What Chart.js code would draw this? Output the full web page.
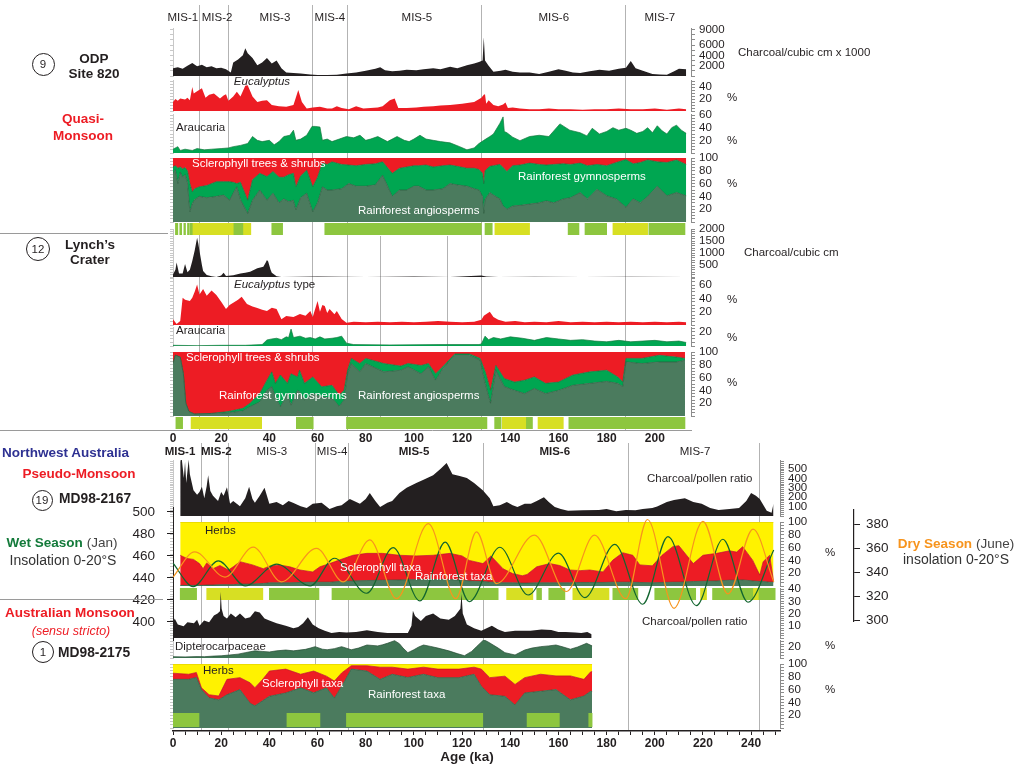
<!DOCTYPE html>
<html>
<head>
<meta charset="utf-8">
<script src="https://cdn.jsdelivr.net/npm/chart.js@4.4.1/dist/chart.umd.min.js"></script>
<style>
  body { margin:0; width:1015px; height:770px; position:relative; overflow:hidden; background:#fff;
         font-family:"Liberation Sans", Arial, Helvetica, sans-serif; color:#231f20; }
  canvas { position:absolute; }
  .t { position:absolute; white-space:nowrap; line-height:1; transform:translate(-50%,-50%); font-size:11.5px; }
  .l { transform:translate(0,-50%); }
  .w { color:#fff; }
  .b { font-weight:bold; }
  .h { font-weight:bold; font-size:13.5px; }
  .red { color:#ed1c24; }
  .circ { position:absolute; border:1px solid #231f20; border-radius:50%; text-align:center; font-size:11.5px; box-sizing:border-box; }
  .hr { position:absolute; height:0; border-top:1px solid #9a9a9a; }
</style>
</head>
<body>
<script>
// ---------- data (age in ka) ----------
const topBounds = [11.2, 23.2, 57.7, 72.6, 128.2, 188];
const lynchBounds = [86, 114];
const botBounds = [12, 23.2, 59, 73, 129, 189.2, 243.6];
const misNames = ["MIS-1", "MIS-2", "MIS-3", "MIS-4", "MIS-5", "MIS-6", "MIS-7"];
const misTopAt = [4.1, 18.3, 42.3, 65.1, 101.2, 158, 202];
const misBotAt = [2.9, 18, 41, 66, 100, 158.4, 216.6];
const misBotBold = [true, true, false, false, true, true, false];
const topAgeLabels = [0, 20, 40, 60, 80, 100, 120, 140, 160, 180, 200];
const botAgeLabels = [0, 20, 40, 60, 80, 100, 120, 140, 160, 180, 200, 220, 240];

// ODP Site 820
const odpCharcoal = [[0,1500],[2,1700],[4,1400],[6,2000],[8,2500],[10,1900],[12,2200],[14,1700],[16,1900],[18,1500],[20,1600],[22,1300],[24,700],[25,2600],[27,3200],[29,4000],[30,5400],[31,4400],[33,3500],[35,2100],[37,2600],[39,3500],[41,2400],[43,3000],[45,1500],[47,700],[50,600],[53,500],[57,300],[60,200],[64,200],[68,250],[72,500],[76,700],[80,1000],[84,1400],[86,1700],[88,1100],[91,900],[94,1000],[97,1200],[101,1100],[104,1300],[108,1500],[111,1300],[115,1800],[118,1500],[122,2100],[125,2400],[127,2700],[128.5,3000],[129,7500],[129.5,3000],[131,2000],[133,800],[136,1000],[138,1200],[141,800],[144,700],[148,700],[152,400],[156,800],[160,1300],[163,1000],[166,700],[169,600],[173,900],[177,1200],[181,1000],[185,1400],[188,1600],[190,2900],[192,1500],[195,1000],[199,400],[202,300],[205,250],[208,900],[210,1400],[213,1300]];
const odpEucalyptus = [[0,15],[1,20],[2,17],[3,21],[5,19],[6,22],[7,18],[8,40],[8.6,29],[10,33],[12,38],[13.5,22],[15,27],[17,29],[19.5,21],[21,26],[22,28],[23,17],[25,24],[26.5,32],[28,24],[30,42],[31,43],[33,24],[35,15],[37,17],[39,18],[41,10],[44,8],[47,7],[50,10],[52,35],[53.5,15],[55.5,4],[58,6],[61,7],[64,4],[66,4],[68,8],[70,5],[73,3],[76,8],[79,4],[82,5],[85,6],[87,8],[90,18],[92,21],[93.5,5],[97,5],[101,6],[104,7],[108,8],[111,9],[115,10],[120,12],[125,15],[128,22],[129,27],[129.5,28],[130,12],[131,18],[133,10],[135,8],[137,11],[138,14],[139,5],[141,6],[144,4],[148,3],[152,3],[156,4],[160,3],[165,3],[170,2],[175,3],[180,3],[185,4],[190,3],[195,3],[200,4],[205,2],[210,4],[213,3]];
const odpAraucaria = [[0,6],[2,10],[3,4],[5,6],[8,4],[10,7],[13,5],[16,6],[20,7],[23,8],[25,10],[28,12],[31,15],[33,26],[35,20],[37,18],[40,20],[42,13],[44,18],[46,26],[48.5,28],[50,36],[51,20],[53,22],[55.5,28],[57.7,42],[59,42],[61,41],[62,20],[64,22],[66,18],[69,22],[72,26],[75,24],[77.6,28],[80,20],[82,22],[85,26],[87,22],[89,18],[91,22],[93,26],[96,20],[98,18],[100,22],[102.5,28],[105,22],[108,20],[111,18],[115,16],[119,10],[122,5],[125,8],[127,15],[129,20],[131.5,26],[133,30],[135.7,47],[137,57],[137.5,34],[138.6,32],[141,25],[144,19.5],[148,26],[152,28],[156,26],[160.6,46],[164.7,36],[169,32],[171.8,27],[174,39],[177,30],[180,34],[182.6,40],[185,36],[188,39],[190,36],[192.5,31],[195,34],[197,40],[199,32],[201,43],[203,35],[205,30],[207,40],[209,44],[211,36],[213,31]];
const odpPollenAge = [0,1,2,3,4,5,6,7,8,9,11,14,18,21,23.5,25,26.5,28,31,33,36,39,41.5,44,46,48,50,51,53,55.5,58,60,62,64,66,70,73,76,80,84,87,91,94,97,100,102,105,108,112,115,118,122,125,127,128.5,129,129.5,131.5,133,135.7,137,138.6,141,144,148,152,155,158,162,165,169,172,176,180,184,188,191,194,197,201,205,209,213];
const odpAngiosperms = [76,82,60,78,70,74,62,16,29,35,40,38,40,42,34,45,55,35,13.5,34,50,34,45,30,36,32,34,19,38,45,16,30,55,50,50,52,60,56,56,58,73,40,50,50,56,56,50,50,52,60,58,56,52,50,40,13.5,35,46,42,36,25,20,25,26,28,30,33,30,36,38,46,36,51,41,36,23,36,30,40,56,41,46,41];
const odpPlusGymnosperms = [86,88,84,86,83,85,80,60,47,52,55,57,63,63,63,62,60,62,34,66,76,71,79,70,70,74,76,55,72,81,55,70,92,90,94,90,89,88,90,91,94,76,84,86,88,88,89,86,88,89,87,84,84,82,76,60,80,87,88,90,85,79,88,89,92,90,89,90,91,90,92,88,90,88,93,97.5,91,93,97,94,93,97,90];
const odpBars = [[1,2,"g"],[2.8,3.6,"g"],[4.5,5.2,"g"],[6,6.8,"g"],[7.2,8,"g"],[8,25,"y"],[25,29,"g"],[29,32.3,"y"],[41,45.5,"g"],[63,128,"g"],[129.5,132.5,"g"],[133.6,148,"y"],[164,168.5,"g"],[171,180,"g"],[182.6,197,"y"],[197.5,212.5,"g"]];

// Lynch's Crater
const lynchCharcoal = [[0,100],[1,300],[1.5,600],[2.5,150],[4,150],[5,540],[6,200],[7,300],[8,670],[9,1100],[10,1640],[10.5,1400],[11,1080],[12,500],[12.5,250],[14,80],[16,30],[18,0],[20,60],[21,180],[22,40],[25,70],[28,150],[30,180],[32,220],[35,360],[37.5,430],[38.5,600],[39,710],[39.5,650],[40.5,300],[41,180],[43,30],[45,0],[60,20],[80,0],[100,20],[115,0],[128,60],[130,20],[135,0],[150,10],[170,0],[190,10],[213,0]];
const lynchEucalyptus = [[0,8.5],[1.5,1.5],[3,6],[4,41],[5,38],[7,36],[8,41],[9,50],[10,61],[11,46],[12.5,54],[14,44],[16,52],[18,45],[20,35],[22,24],[23.5,30],[25,33.5],[27,38],[28.5,42.6],[30.7,31.5],[33,28],[35,25.5],[37,23],[39,21],[41,26],[43,24],[45,8.5],[47,13.5],[50,12],[52.7,16.5],[55,14],[57,21],[58,12],[59,24],[60,36],[61,20],[62,30],[63,28.5],[64,18],[65,24],[67,16],[68,21],[70,9],[72,3.5],[75,5],[80,4],[85,5],[90,4],[95,5],[100,4],[105,5],[110,6],[115,5],[120,4],[125,5],[128,8],[129,14],[131.5,20],[133,12],[135,8],[138,5],[142,6],[146,4],[150,5],[155,4],[160,6],[165,4],[170,5],[175,4],[180,5],[185,4],[190,5],[195,4],[200,5],[205,4],[210,5],[213,4]];
const lynchAraucaria = [[0,1],[10,0.5],[20,1],[30,1],[37,2],[39,8.6],[41,10],[43,11],[45,9],[47,13],[48,12],[49,24],[50,12],[52.7,14],[55,11],[57,12],[59,10],[61,13],[63,10],[66,11],[68,12],[70,14],[72,4],[75,2],[90,1.5],[110,2],[127,2],[128,3],[129.5,14],[131,9],[133,12],[136,10],[140,13],[145,11],[150,8],[155,12],[160,10],[165,8],[170,9],[175,7],[180,6],[185,8],[190,6],[195,7],[200,8],[205,6],[210,7],[213,5]];
const lynchPollenAge = [0,1,3,4.3,5.3,6.6,8.9,16,23,29,32,36,39,41,42.5,44.6,47.5,49,51.7,52.5,54.6,58,61.7,66,69,71,72.5,74,77.5,80,87.5,94.6,97.5,103,106,109,112,117,123,127.5,129.6,131.8,134,137.5,141.8,146,150,154.6,160,166,173,180,184.6,186.7,188,194.6,201.8,209,212.5];
const lynchAngiosperms = [82,95,92,66,20,7,3,4,5,8,14.5,22,40,46,30,14.5,35,17,40,38,25,35,30,28,15,25,66,82,69,82,69,71.5,77,66,77,56,74,95,95,87,51,20,71.5,46,40,35,43,35,40,48,51,54,51,46,84.5,82,84.5,84.5,87];
const lynchPlusGymnosperms = [82,95,92,66,20,7,3,4,7,12,20,35,56,69,51,64,51,66,61,71.5,51,61,45.6,48,32.6,40,72,90,82,90,82,78,82,79,82,66,77,97,97,90,69,40,79,58.5,53,56,61,51,53,64,69,71.5,61,53,90,90,95,92,90];
const lynchBars = [[1.2,4,"g"],[7.5,36.8,"y"],[51.2,58.2,"g"],[72,130.3,"g"],[133.5,136.2,"g"],[136.7,146.4,"y"],[146.6,149.2,"g"],[151.5,162,"y"],[164.3,212.5,"g"]];

// MD98-2167
const md67Charcoal = [[3,575],[3.5,640],[4.5,405],[5,575],[5.5,350],[6.5,600],[7,445],[8.5,275],[10,225],[11,255],[12,310],[13,190],[14,320],[14.6,435],[15.5,265],[16.6,215],[18.7,160],[20,255],[21,215],[22.4,305],[23.7,130],[25,160],[27.8,105],[30,190],[31.6,310],[33,180],[34,140],[36,215],[38,300],[40,130],[43,150],[45.6,115],[48,160],[49.8,140],[53,105],[55.5,85],[58,130],[61.7,140],[65,75],[68,105],[70,115],[73.4,180],[77.6,130],[80,180],[81.7,245],[84,160],[86,95],[89,140],[91,160],[94,245],[97,300],[101,350],[104,385],[108,435],[111,500],[113.6,565],[116,445],[119,425],[122,405],[125,350],[128.6,275],[131.5,190],[133,105],[135.7,115],[138.6,150],[141,115],[143,95],[146,130],[148.6,130],[151,160],[154,200],[156,150],[158.5,95],[161,75],[164,55],[170,60],[176.8,65],[180,75],[184,50],[188,65],[192,60],[195,75],[199,85],[201,100],[205,150],[208,170],[212.5,190],[216,150],[219.5,130],[223,85],[226.5,65],[231,75],[235,85],[238,160],[240,245],[242,215],[243.6,180],[246.5,55],[248.5,35],[249.3,130]];
const md67PollenAge = [3,5.8,8.5,11,12.5,14,16.6,19.5,23,25,27.8,33,37.5,40,44,48.5,52.7,58,61,65,69,74.7,80.5,87,94,101,108,115,120,123,128.7,132,137,141,145,147,151,156.4,160.6,164.7,169,173,178.5,182.6,186.7,190.9,193.8,199,203,207.5,210,216,220,225.7,231,234,236.5,240.7,243.6,245,247.7,249.3];
const md67Rainforest = [1,1,1,1,1,1.5,1.5,2,2,2,3,3,4,5,5,5,5.5,6,6,6,7,8,8.5,9,9.5,10,10,10,9,8,7,6,5,5,4.5,4.5,5,5,5,5,5.5,5.5,5.5,6,6,6,5.5,5,5.5,6,6,7,7.5,8,9,9,9.5,8,7,7,6,6];
const md67PlusSclerophyll = [48,43,41.6,35,27,36,27,32,25,30,38,33,27,31,33,30,25,22,30,35,40.5,48,51,51,48,47,48,51,47,40,35,47,27,19.5,16,18,30,35,32,25,24,25,22,40.5,52,48,33,31.5,48,61.5,63,35,48,51,55,53,61.5,40,17,38,48,8];
const md67Bars = [[3,9.8,"g"],[14,37.3,"y"],[40,60.6,"g"],[66,135,"g"],[138.5,149.4,"y"],[151,153,"g"],[156,162.7,"g"],[166,181,"y"],[182.6,193,"g"],[200,217,"g"],[219,221.5,"y"],[224,240.7,"g"],[240.7,243,"y"],[243,250,"g"]];

// insolation 0-20S (turning points)
const wetJan = [[0,453.4],[8.4,432.1],[18.8,455.5],[30,432.7],[43,452.5],[57,432.7],[67,457.9],[80.4,426.1],[91.4,467.5],[102.5,419.1],[113,472.5],[123,418.5],[135.7,467.9],[147.4,424.5],[160,462.5],[171,422.1],[183.4,470.6],[195,416.1],[205.5,477.5],[217.3,414.8],[228.3,475.2],[238.7,417.9],[249.4,465.5]];
const dryJune = [[0,336],[9,357],[21.6,336],[33.3,361],[45,332],[59.6,360],[70.7,332],[81.7,367],[92.8,318],[106,380.5],[117.4,318],[126,373.6],[134.3,330.6],[150,371],[163.3,324],[175,371],[188,318],[197,384],[208,310],[220,382.5],[230.4,322],[240.8,376],[249.4,332]];

// MD98-2175
const md75Charcoal = [[0,12],[0.7,16],[2,11],[4.4,9.6],[6,13],[8.7,12],[10,15],[11,10],[12.9,14.4],[15,13],[17,18.4],[18.5,20],[19.5,22],[19.8,38],[20.2,24],[21,18],[22.4,16],[24,20],[26,17],[27.8,20],[30,16],[32,17],[34,22],[36,21],[38,16],[40,14.4],[43,12],[46.8,10],[50,8],[52,9],[54,12],[56,17],[58,11],[60.5,8],[63,6],[65.8,4],[69,5],[72,4.5],[76,5],[80.5,6.4],[85,5],[89,4],[93,4],[97.5,4],[99,10],[99.6,22.4],[100.5,18],[102.9,14],[105,18],[108,20],[111,16],[114.5,15],[117,18],[119.3,24],[119.8,36],[120.3,20],[122,11],[125,8],[128,6],[132.4,10],[135,7],[137.8,5],[142,6],[148.4,6],[153,7],[157,6.6],[160,5],[163,5],[167,4.5],[169.5,4],[172,5],[173.8,3]];
const md75Diptero = [[0,2.4],[5,2],[10,2.5],[13,2.4],[17,3.5],[20,4],[23.5,5.5],[27,7],[30,9.7],[34,13],[37,12],[40,11],[43,13],[46.8,14.5],[50,13],[55,15.7],[57,18],[59,20.6],[62,16],[64,15],[67,17],[70,20.6],[74,15],[77,18],[80.5,23.6],[85,22],[87,24],[89,26.7],[92,31.5],[94,26],[95.5,18],[97.5,9.7],[100,15],[102,20],[104,23.6],[107,21],[110,18],[114.5,13],[118,8],[121,4.2],[124,12],[126,20.6],[129,33],[130.5,30],[132.4,25],[135,18],[137.8,9.7],[142,5.5],[146,14.5],[149,18],[152.6,20.6],[156,22],[159,23.6],[162,20],[165,16],[168,20],[171.7,26.7],[174,22]];
const md75PollenAge = [0,6.5,9.7,11.8,15,19,22.4,27.8,32,34,37,40,46.8,53,58.4,63.7,67,70,74,80.5,86,91,97.5,104,110,118.7,125,128,131.5,137.8,142,146,152.6,159,165,170.6,173.4,174];
const md75Rainforest = [76,76,79,60,47,44,52,60,38.8,34.6,42,49.5,54.8,62.8,55,62.8,46.8,65,92,89,76,84,79,84,78.7,78.7,84,65.4,52,49.5,36,54.8,57.4,60,44,50,57.4,57];
const md75PlusSclerophyll = [85.6,84,86.7,62.8,52,50,76,78.7,70.7,63,75,89,92,84,89,81,73.4,86,97.3,97.3,95,95,92,95,92,92,95,92,78.7,81,68,78.7,84,81.4,81.4,76,87.8,88];
const md75Bars = [[0,10.8,"g"],[47.3,61,"g"],[72,128.6,"g"],[147,160.4,"g"],[172.6,174,"g"]];

// ---------- colours ----------
const BLACK = "#231f20", RED = "#ed1c24", BGREEN = "#00a651", DGREEN = "#4b7b5e", YELLOW = "#fff200";
const BAR_G = "#8dc63f", BAR_Y = "#d7df23", GRID = "#b3b3b3", AXIS = "#8c8c8c";

Chart.defaults.font.family = '"Liberation Sans", Arial, Helvetica, sans-serif';
Chart.defaults.font.size = 11.5;
Chart.defaults.color = BLACK;
Chart.defaults.animation = false;
Chart.defaults.events = [];
Chart.defaults.plugins.legend.display = false;
Chart.defaults.plugins.tooltip.enabled = false;

const X0 = 173, PX = 2.41, AXW = 40, LAX = 8, PADV = 12, XT = 215, XB = 252;

function mk(left, top, w, h) {
  const c = document.createElement("canvas");
  c.width = Math.round(w); c.height = Math.round(h);
  c.style.left = left + "px"; c.style.top = top + "px";
  document.body.appendChild(c);
  return c;
}
function zip(a, b) { return a.map((v, i) => [v, b[i]]); }
function steps(min, max, step) {
  const a = [];
  for (let v = Math.ceil(min / step) * step; v <= max + 1e-9; v += step) a.push(+v.toFixed(3));
  return a;
}
function area(pairs, col, line, fill) {
  return { data: pairs.map(p => ({ x: p[0], y: p[1] })), yAxisID: "y", backgroundColor: col,
           borderColor: line || col, borderWidth: line ? 0.7 : 0, fill: fill || "origin", pointRadius: 0, tension: 0 };
}
function stack(ages, a, b, colA, colB, colC, lineA, lineB, lineC) {
  return [area(zip(ages, a), colA, lineA, "origin"),
          area(zip(ages, b), colB, lineB, "-1"),
          area(zip(ages, ages.map(() => 100)), colC, lineC, "-1")];
}

function yScale(o, side) {
  const right = side === "right";
  const all = steps(o.min, o.max, o.minor);
  return {
    type: "linear", position: side, min: o.min, max: o.max,
    afterFit: s => { s.width = right ? AXW : LAX; },
    afterBuildTicks: s => { s.ticks = all.map(v => ({ value: v })); },
    border: { color: right ? AXIS : "#c8c8c8", width: 1 },
    grid: { drawOnChartArea: false, tickLength: right ? 4 : 3, color: right ? AXIS : "#c8c8c8" },
    ticks: { display: right, autoSkip: false, padding: 4, callback: v => o.major.includes(v) ? String(v) : "" }
  };
}

function panel(o) {
  const c = mk(X0 - LAX, o.top - PADV, LAX + o.xmax * PX + AXW, o.bottom - o.top + 2 * PADV);
  new Chart(c, {
    type: "line",
    data: { datasets: o.sets },
    options: {
      responsive: false,
      layout: { padding: { top: PADV, bottom: PADV, left: 0, right: 0 } },
      elements: { point: { radius: 0 } },
      scales: { y: yScale(o, "right"), yl: yScale(o, "left"), x: { type: "linear", min: 0, max: o.xmax, display: false } }
    }
  });
}

function barRow(top, bottom, xmax, segs) {
  const c = mk(X0 - LAX, top, LAX + xmax * PX + AXW, bottom - top);
  new Chart(c, {
    type: "bar",
    data: { labels: ["r"], datasets: segs.map(s => ({ data: [[s[0], s[1]]], backgroundColor: s[2] === "y" ? BAR_Y : BAR_G,
      barPercentage: 1, categoryPercentage: 1, grouped: false, borderWidth: 0 })) },
    options: {
      indexAxis: "y", responsive: false,
      layout: { padding: { left: LAX, right: AXW, top: 0, bottom: 0 } },
      scales: { x: { type: "linear", min: 0, max: xmax, display: false }, y: { display: false } }
    }
  });
}

function backdrop(o) {
  const all = o.lines.concat(o.ticks);
  const c = mk(X0 - 20, o.top, 40 + o.xmax * PX, o.bottom - o.top + o.axisH);
  new Chart(c, {
    type: "line",
    data: { datasets: [] },
    options: {
      responsive: false,
      layout: { padding: { left: 20, right: 20, top: 0, bottom: 0 } },
      scales: {
        x: {
          type: "linear", position: "bottom", min: 0, max: o.xmax,
          afterFit: s => { s.height = o.axisH; },
          afterBuildTicks: s => { s.ticks = all.map(v => ({ value: v })); },
          grid: {
            color: ctx => (ctx.tick && o.lines.includes(ctx.tick.value)) ? GRID : "rgba(0,0,0,0)",
            tickColor: ctx => (ctx.tick && o.lines.includes(ctx.tick.value)) ? "rgba(0,0,0,0)" : o.axisColor,
            drawTicks: o.tickLen > 0, tickLength: o.tickLen, lineWidth: 1
          },
          border: { display: o.axisH > 0, color: o.axisColor, width: o.borderW },
          ticks: { display: o.axisH > 0, autoSkip: false, maxRotation: 0, padding: 1,
                   font: { size: 12, weight: "bold" }, callback: v => o.nums.includes(v) ? String(v) : "" }
        },
        y: { display: false, min: 0, max: 1 }
      }
    }
  });
}

// ---------- background grids and age axes ----------
backdrop({ top: 5, bottom: 430, xmax: XT, lines: topBounds, ticks: topAgeLabels, nums: topAgeLabels, axisH: 17, tickLen: 0, axisColor: "#9a9a9a", borderW: 1 });
backdrop({ top: 236, bottom: 429, xmax: XT, lines: lynchBounds, ticks: [], nums: [], axisH: 0, tickLen: 0, axisColor: "#9a9a9a", borderW: 1 });
backdrop({ top: 443, bottom: 731, xmax: XB, lines: botBounds, ticks: steps(0, 250, 5), nums: botAgeLabels, axisH: 20, tickLen: 4, axisColor: BLACK, borderW: 1.5 });

// ---------- ODP Site 820 ----------
panel({ top: 28, bottom: 76, xmax: XT, min: 0, max: 9300, minor: 1000, major: [2000, 4000, 6000, 9000],
        sets: [area(odpCharcoal, BLACK)] });
panel({ top: 80, bottom: 111, xmax: XT, min: 0, max: 51.7, minor: 5, major: [20, 40],
        sets: [area(odpEucalyptus, RED)] });
panel({ top: 114, bottom: 153, xmax: XT, min: 0, max: 61.6, minor: 5, major: [20, 40, 60],
        sets: [area(odpAraucaria, BGREEN, "#127a3e")] });
panel({ top: 158, bottom: 222, xmax: XT, min: 0, max: 100, minor: 5, major: [20, 40, 60, 80, 100],
        sets: stack(odpPollenAge, odpAngiosperms, odpPlusGymnosperms, DGREEN, BGREEN, RED, "#2c5a3d", "#1d6b3a") });
barRow(223, 235, XT, odpBars);

// ---------- Lynch's Crater ----------
panel({ top: 229, bottom: 277, xmax: XT, min: 0, max: 2000, minor: 100, major: [500, 1000, 1500, 2000],
        sets: [area(lynchCharcoal, BLACK)] });
panel({ top: 278, bottom: 325, xmax: XT, min: 0, max: 70.7, minor: 5, major: [20, 40, 60],
        sets: [area(lynchEucalyptus, RED)] });
panel({ top: 327, bottom: 346, xmax: XT, min: 0, max: 27, minor: 5, major: [20],
        sets: [area(lynchAraucaria, BGREEN, "#127a3e")] });
panel({ top: 352, bottom: 416, xmax: XT, min: 0, max: 100, minor: 5, major: [20, 40, 60, 80, 100],
        sets: stack(lynchPollenAge, lynchAngiosperms, lynchPlusGymnosperms, DGREEN, BGREEN, RED, "#2c5a3d", "#1d6b3a") });
barRow(417, 429, XT, lynchBars);

// ---------- MD98-2167 ----------
panel({ top: 460, bottom: 516, xmax: XB, min: 0, max: 596, minor: 20, major: [100, 200, 300, 400, 500],
        sets: [area(md67Charcoal, BLACK)] });
panel({ top: 522, bottom: 586, xmax: XB, min: 0, max: 100, minor: 5, major: [20, 40, 60, 80, 100],
        sets: stack(md67PollenAge, md67Rainforest, md67PlusSclerophyll, DGREEN, RED, YELLOW, "#2c5a3d", "#c0151c", "#c9b400") });
barRow(588, 600, XB, md67Bars);

// ---------- MD98-2175 ----------
panel({ top: 588, bottom: 638, xmax: XB, min: 0, max: 41, minor: 2, major: [10, 20, 30, 40],
        sets: [area(md75Charcoal, BLACK)] });
panel({ top: 640, bottom: 658, xmax: XB, min: 0, max: 32.7, minor: 5, major: [20],
        sets: [area(md75Diptero, "#3e7553", "#244a32")] });
panel({ top: 664, bottom: 728, xmax: XB, min: 0, max: 100, minor: 5, major: [20, 40, 60, 80, 100],
        sets: stack(md75PollenAge, md75Rainforest, md75PlusSclerophyll, DGREEN, RED, YELLOW, "#2c5a3d", "#c0151c", "#c9b400") });
barRow(713, 727, XB, md75Bars);

// ---------- insolation curves (own axes, drawn on top) ----------
function insolation(o) {
  const c = mk(o.left, o.top - 22, o.width, o.bottom - o.top + 44);
  new Chart(c, {
    type: "line",
    data: { datasets: [{ data: o.pairs.map(p => ({ x: p[0], y: p[1] })), yAxisID: "yi", borderColor: o.color,
                         borderWidth: 1.2, pointRadius: 0, fill: false, cubicInterpolationMode: "monotone" }] },
    options: {
      responsive: false,
      layout: { padding: { top: 22, bottom: 22, left: 0, right: o.padRight } },
      scales: Object.assign({
        x: { type: "linear", min: 0, max: XB, display: false },
        yi: { type: "linear", position: o.side, weight: 1, min: o.min, max: o.max,
              afterFit: s => { s.width = o.axisW; },
              afterBuildTicks: s => { s.ticks = steps(o.t0, o.t1, 20).map(v => ({ value: v })); },
              border: { color: BLACK, width: o.side === "left" ? 1 : 1.2 },
              grid: { drawOnChartArea: false, tickLength: 6, color: BLACK },
              ticks: { padding: o.pad, font: { size: 13.5 } } }
      }, o.spacer ? { sp: { type: "linear", position: "right", weight: 0, display: true,
              afterFit: s => { s.width = o.spacer; },
              ticks: { display: false }, grid: { display: false }, border: { display: false } } } : {})
    }
  });
}
insolation({ pairs: wetJan, color: "#12652f", side: "left", left: 120, width: 53 + XB * PX, top: 507, bottom: 640,
             min: 383.6, max: 504.5, t0: 400, t1: 500, axisW: 53, pad: 12, padRight: 0 });
insolation({ pairs: dryJune, color: "#f7941d", side: "right", left: X0, width: XB * PX + 74 + 46, top: 510, bottom: 621,
             min: 299.4, max: 391.9, t0: 300, t1: 380, axisW: 46, pad: 6, padRight: 0, spacer: 74 });

// ---------- text ----------
function txt(html, x, y, cls, css) {
  const d = document.createElement("div");
  d.className = "t " + (cls || "");
  d.innerHTML = html;
  d.style.left = x + "px"; d.style.top = y + "px";
  if (css) d.style.cssText += css;
  document.body.appendChild(d);
}
function circ(label, x, y, r) {
  const d = document.createElement("div");
  d.className = "circ";
  d.textContent = label;
  d.style.cssText += `left:${x - r}px;top:${y - r}px;width:${2 * r}px;height:${2 * r}px;line-height:${2 * r - 2}px;`;
  document.body.appendChild(d);
}
function hr(x1, x2, y) {
  const d = document.createElement("div");
  d.className = "hr";
  d.style.cssText += `left:${x1}px;width:${x2 - x1}px;top:${y}px;`;
  document.body.appendChild(d);
}

misNames.forEach((n, i) => {
  txt(n, X0 + misTopAt[i] * PX, 18);
  txt(n, X0 + misBotAt[i] * PX, 452, misBotBold[i] ? "b" : "");
});

hr(0, 168, 233); hr(0, 173, 430); hr(0, 163, 599);

circ("9", 43, 64, 11.5);
txt("ODP", 94, 59, "h"); txt("Site 820", 94, 74, "h");
txt("Quasi-", 83, 119, "h red"); txt("Monsoon", 83, 136, "h red");
circ("12", 38, 249, 12);
txt("Lynch\u2019s", 90, 245, "h"); txt("Crater", 90, 260, "h");

txt("Northwest Australia", 2, 453, "h l", "color:#2e3192;");
txt("Pseudo-Monsoon", 79, 474, "h red");
circ("19", 42, 500, 10.5);
txt("MD98-2167", 59, 499, "h l", "font-size:13.8px;");
txt('<b style="color:#137a3a">Wet Season</b> <span style="color:#444">(Jan)</span>', 62, 543, "", "font-size:13.5px;");
txt("Insolation 0-20\u00b0S", 63, 560, "", "font-size:14px;color:#333;");
txt("Australian Monsoon", 70, 613, "h red");
txt("<i>(sensu stricto)</i>", 71, 631, "red", "font-size:12.5px;");
circ("1", 43, 652, 11);
txt("MD98-2175", 58, 653, "h l", "font-size:13.8px;");
txt('<b style="color:#f7941d">Dry Season</b> <span style="color:#444">(June)</span>', 956, 544, "", "font-size:13.5px;");
txt("insolation 0-20\u00b0S", 956, 559, "", "font-size:14px;color:#333;");

txt("Charcoal/cubic cm x 1000", 738, 53, "l");
txt("%", 732, 98); txt("%", 732, 141); txt("%", 732, 184);
txt("Charcoal/cubic cm", 744, 253, "l");
txt("%", 732, 300); txt("%", 732, 338); txt("%", 732, 383);
txt("%", 830, 553); txt("%", 830, 646); txt("%", 830, 690);

txt("<i>Eucalyptus</i>", 262, 82);
txt("Araucaria", 176, 128, "l");
txt("Sclerophyll trees &amp; shrubs", 192, 164, "l w");
txt("Rainforest gymnosperms", 518, 177, "l w");
txt("Rainforest angiosperms", 358, 211, "l w");
txt("<i>Eucalyptus</i> type", 234, 285, "l");
txt("Araucaria", 176, 331, "l");
txt("Sclerophyll trees &amp; shrubs", 186, 358, "l w");
txt("Rainforest gymnosperms", 219, 396, "l w");
txt("Rainforest angiosperms", 358, 396, "l w");
txt("Charcoal/pollen ratio", 647, 479, "l");
txt("Herbs", 205, 531, "l");
txt("Sclerophyll taxa", 340, 568, "l w");
txt("Rainforest taxa", 415, 577, "l w");
txt("Charcoal/pollen ratio", 642, 622, "l");
txt("Dipterocarpaceae", 175, 647, "l");
txt("Herbs", 203, 671, "l");
txt("Sclerophyll taxa", 262, 684, "l w");
txt("Rainforest taxa", 368, 695, "l w");
txt("Age (ka)", 467, 757, "b", "font-size:13.5px;");
</script>
</body>
</html>
